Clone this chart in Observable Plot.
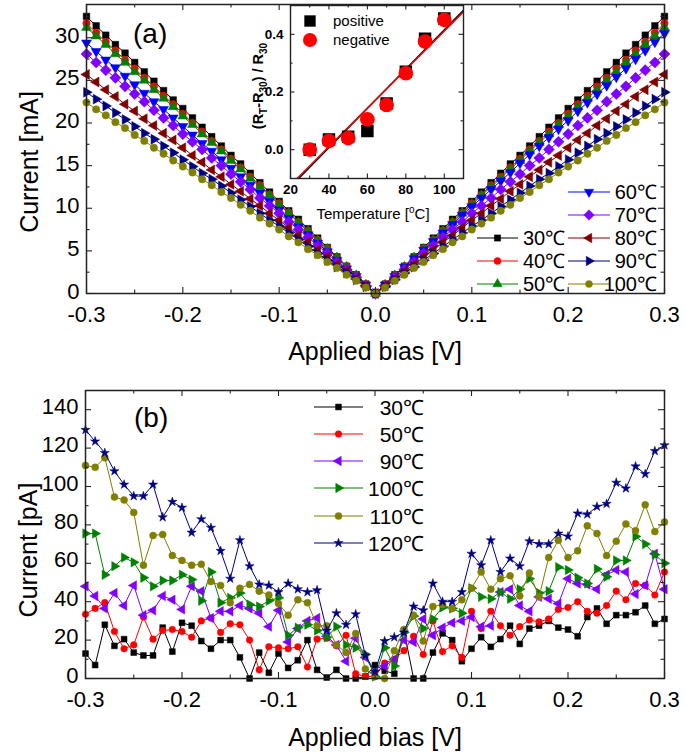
<!DOCTYPE html>
<html><head><meta charset="utf-8">
<script src="https://cdn.jsdelivr.net/npm/d3@7"></script>
<script src="https://cdn.jsdelivr.net/npm/@observablehq/plot@0.6"></script>
<style>
body{margin:0;background:#fff;}
#wrap{position:relative;width:685px;height:753px;overflow:hidden;background:#fff;}
#wrap svg{position:absolute;}
</style></head><body><div id="wrap"></div>
<script>
const FONT = "'Liberation Sans', Arial, Helvetica, sans-serif";

// ---------- shared x grid & ticks ----------
const bias = [-0.30,-0.29,-0.28,-0.27,-0.26,-0.25,-0.24,-0.23,-0.22,-0.21,-0.20,-0.19,-0.18,-0.17,-0.16,-0.15,-0.14,-0.13,-0.12,-0.11,-0.10,-0.09,-0.08,-0.07,-0.06,-0.05,-0.04,-0.03,-0.02,-0.01,0,0.01,0.02,0.03,0.04,0.05,0.06,0.07,0.08,0.09,0.10,0.11,0.12,0.13,0.14,0.15,0.16,0.17,0.18,0.19,0.20,0.21,0.22,0.23,0.24,0.25,0.26,0.27,0.28,0.29,0.30];
const xTicks = [-0.3,-0.2,-0.1,0,0.1,0.2,0.3];
const xMinor = [-0.25,-0.15,-0.05,0.05,0.15,0.25];
const yTicksA = [0,5,10,15,20,25,30];
const yMinorA = [2.5,7.5,12.5,17.5,22.5,27.5,32.5];
const yTicksB = [0,20,40,60,80,100,120,140];
const yMinorB = [10,30,50,70,90,110,130];

// ---------- panel (a): |current| in mA vs |bias| index 0..30 (0 to 0.30 V) ----------
const a30 = [0,1.1,2.2,3.2,4.3,5.4,6.5,7.6,8.7,9.7,10.8,11.9,13.0,14.1,15.2,16.2,17.3,18.4,19.5,20.6,21.7,22.7,23.8,24.9,26.0,27.1,28.2,29.2,30.3,31.4,32.5];
const a40 = [0,1.1,2.1,3.2,4.2,5.3,6.3,7.4,8.4,9.5,10.6,11.6,12.7,13.7,14.8,15.8,16.9,17.9,19.0,20.0,21.1,22.2,23.2,24.3,25.3,26.4,27.4,28.5,29.5,30.6,31.7];
const a50 = [0,1.0,2.1,3.1,4.2,5.2,6.2,7.3,8.3,9.4,10.4,11.5,12.5,13.5,14.6,15.6,16.7,17.7,18.7,19.8,20.8,21.9,22.9,23.9,25.0,26.0,27.1,28.1,29.2,30.2,31.2];
const a60pos = [0,1.0,2.0,3.1,4.1,5.1,6.1,7.1,8.1,9.2,10.2,11.2,12.2,13.2,14.2,15.3,16.3,17.3,18.3,19.3,20.3,21.4,22.4,23.4,24.4,25.4,26.4,27.5,28.5,29.5,30.5];
const a60neg = [0,1.0,2.0,2.9,3.9,4.9,5.9,6.9,7.8,8.8,9.8,10.8,11.8,12.7,13.7,14.7,15.7,16.7,17.6,18.6,19.6,20.6,21.6,22.5,23.5,24.5,25.5,26.5,27.4,28.4,29.4];
const a70 = [0,0.9,1.9,2.8,3.7,4.7,5.6,6.6,7.5,8.4,9.4,10.3,11.2,12.2,13.1,14.0,15.0,15.9,16.9,17.8,18.7,19.7,20.6,21.5,22.5,23.4,24.3,25.3,26.2,27.1,28.1];
const a80 = [0,0.9,1.7,2.6,3.4,4.3,5.1,6.0,6.8,7.7,8.6,9.4,10.3,11.1,12.0,12.8,13.7,14.5,15.4,16.2,17.1,18.0,18.8,19.7,20.5,21.4,22.2,23.1,23.9,24.8,25.7];
const a90 = [0,0.8,1.6,2.4,3.1,3.9,4.7,5.5,6.3,7.1,7.9,8.6,9.4,10.2,11.0,11.8,12.6,13.4,14.1,14.9,15.7,16.5,17.3,18.1,18.8,19.6,20.4,21.2,22.0,22.8,23.6];
const a100 = [0,0.7,1.5,2.2,3.0,3.7,4.5,5.2,6.0,6.7,7.5,8.2,8.9,9.7,10.4,11.2,11.9,12.7,13.4,14.2,14.9,15.6,16.4,17.1,17.9,18.6,19.4,20.1,20.9,21.6,22.4];

// ---------- inset ----------
const insetTemps = [30,40,50,60,70,80,90,100];
const insetPos = [0,0.035,0.045,0.065,0.16,0.27,0.385,0.455];
const insetNeg = [0,0.03,0.04,0.105,0.155,0.265,0.375,0.45];
const fitPosT = [24.2,110], fitPosY = [-0.1,0.483];
const fitNegT = [23.4,110], fitNegY = [-0.1,0.478];
const insetXTicks = [20,40,60,80,100];
const insetXMinor = [30,50,70,90];
const insetYTicks = [0,0.2,0.4];
const insetYMinor = [-0.1,0.1,0.3,0.5];

// ---------- panel (b): current in pA, 61 points from -0.30 to 0.30 V ----------
const b30 = [13,7,28,17,20.5,13.5,12,12,26.5,14,29,27.5,19.5,15.5,20,20,11,0,13.5,3,13,5.5,9.5,20,4.5,0.5,4.5,0,0,1, 7, 4,2.5,25,0,0,13.5,23.5,20,9,15.5,21.5,16.5,20.5,27.5,18,26,27.5,30,26.5,25.5,22,32,36.5,28.5,33,33,34.5,38,28.5,31];
const b50 = [33.5,36.5,39.5,24.5,15.5,17.5,32,20.5,25,25.5,24.5,21.5,30,31.5,24,28.5,28,20,4.5,16.5,16,15.5,16.5,6,20.5,21,17,22.5,2.5,1, 1, 8,10,14.5,22,12.5,30,14,17,11,35,26,35,27.5,22.5,27,30.5,29.5,31,36,37,40,35,34,38,45.5,41,49.5,48.5,43.5,55.5];
const b90 = [48,43,36.5,44.5,38,48.5,33,35.5,43,41,36,48,45.5,31.5,35,35,38,36.5,34,27,35.5,19,26,30,31.5,22,17.5,9,21,11, 3, 6.5,10,20,19,31,22.5,26.5,29,30,32,27,27.5,45,46.5,38,35,42.5,41.5,39,52,49.5,49,46.5,54,56.5,55.5,44,48.5,65,46.5];
const b100 = [75.5,75.5,54,58.5,63,60.5,52.5,48,51,51,54,51.5,40.5,55.5,39.5,42,44.5,38.5,37.5,40.5,42,22.5,26.5,28,25,21.5,27,17.5,16,12.5, 1, 16,6.5,24,32.5,26,31,37,36.5,34,47,42.5,41.5,45,41.5,46.5,52,44.5,45.5,58,56.5,52.5,49.5,57,53,61.5,61.5,74,70,64.5,60];
const b110 = [111,110,115,94.5,93,86.5,59,74.5,75,64,61.5,59,59.5,50.5,48.5,39.5,47,49,45.5,43.5,39,33,41,39.5,27.5,27.5,17.5,13.5,23.5,5, 1, 0,14.5,25.5,33,19.5,37.5,38.5,36.5,41,47,55.5,46.5,52,53.5,43,55,42.5,63,72,63,66.5,79.5,75.5,64,71.5,80.5,77,90.5,76.5,81.5];
const b120 = [129.5,123.5,117.5,108,101,95,95,101,84,92,89,76,83,78.5,66.5,52,72,58.5,49,48.5,45,49.5,46.5,45,46,25,34,28,33.5,12, 3.5, 19.5,21.5,24,37.5,35.5,49.5,40,40,45,65,59,72,55.5,62.5,58.5,71.5,70,70,75.5,74,86,85.5,89.5,91,102,99,110.5,106.5,118.5,121.5];

// ---------- symbols ----------
function triSym(angle){
  return {draw(ctx, size){
    const y = -Math.sqrt(size/(3*Math.sqrt(3)));
    const pts = [[0,2*y],[-Math.sqrt(3)*y,-y],[Math.sqrt(3)*y,-y]];
    const a = angle*Math.PI/180, c = Math.cos(a), s = Math.sin(a);
    pts.forEach(([px,py],i)=>{const X=px*c-py*s, Y=px*s+py*c; if(i===0) ctx.moveTo(X,Y); else ctx.lineTo(X,Y);});
    ctx.closePath();
  }};
}
const symDiamond = {draw(ctx,size){const r=Math.sqrt(size/2)*1.2; ctx.moveTo(0,-r);ctx.lineTo(r,0);ctx.lineTo(0,r);ctx.lineTo(-r,0);ctx.closePath();}};
const symUp = triSym(0), symDown = triSym(180), symLeft = triSym(-90), symRight = triSym(90);

const seriesA = [
  {T:30, color:"#000000", sym:d3.symbolSquare, neg:a30, pos:a30},
  {T:40, color:"#ff0000", sym:d3.symbolCircle, neg:a40, pos:a40},
  {T:50, color:"#008000", sym:symUp, neg:a50, pos:a50},
  {T:60, color:"#0000ff", sym:symDown, neg:a60neg, pos:a60pos},
  {T:70, color:"#8000ff", sym:symDiamond, neg:a70, pos:a70},
  {T:80, color:"#800000", sym:symLeft, neg:a80, pos:a80},
  {T:90, color:"#000080", sym:symRight, neg:a90, pos:a90},
  {T:100, color:"#808000", sym:d3.symbolCircle, neg:a100, pos:a100}
];
const rowsA = seriesA.flatMap(s => bias.map((v,i)=>({T:s.T, V:v, I: i<30 ? s.neg[30-i] : s.pos[i-30]})));

const seriesB = [
  {T:30, color:"#000000", sym:d3.symbolSquare, vals:b30, r:3.3},
  {T:50, color:"#ff0000", sym:d3.symbolCircle, vals:b50, r:3.3},
  {T:90, color:"#8000ff", sym:symLeft, vals:b90, r:3.5},
  {T:100, color:"#008000", sym:symRight, vals:b100, r:3.5},
  {T:110, color:"#808000", sym:d3.symbolCircle, vals:b110, r:3.5},
  {T:120, color:"#000080", sym:d3.symbolStar, vals:b120, r:2.9}
];
const rowsB = seriesB.flatMap(s => bias.map((v,i)=>({T:s.T, V:v, I:s.vals[i]})));

const insetRows = insetTemps.map((t,i)=>({T:t, pos:insetPos[i], neg:insetNeg[i]}));

function frameTicks(xT, xM, yT, yM, fw, fh, maj, min){
  const st = {stroke:"#222", strokeWidth:1.1};
  return [
    Plot.tickX(xT, {x:d=>d, insetTop:fh-maj, ...st}),
    Plot.tickX(xT, {x:d=>d, insetBottom:fh-maj, ...st}),
    Plot.tickX(xM, {x:d=>d, insetTop:fh-min, ...st}),
    Plot.tickX(xM, {x:d=>d, insetBottom:fh-min, ...st}),
    Plot.tickY(yT, {y:d=>d, insetRight:fw-maj, ...st}),
    Plot.tickY(yT, {y:d=>d, insetLeft:fw-maj, ...st}),
    Plot.tickY(yM, {y:d=>d, insetRight:fw-min, ...st}),
    Plot.tickY(yM, {y:d=>d, insetLeft:fw-min, ...st})
  ];
}
const fmt1 = d => (Math.abs(d) < 1e-9 ? 0 : d).toFixed(1);
const wrap = document.getElementById("wrap");

// ================= PANEL (a) =================
const A = {W:685, H:375, ml:86, mr:21, mt:4, mb:82};
const fwA = A.W-A.ml-A.mr, fhA = A.H-A.mt-A.mb;
const plotA = Plot.plot({
  width:A.W, height:A.H, marginLeft:A.ml, marginRight:A.mr, marginTop:A.mt, marginBottom:A.mb,
  style:{fontFamily:FONT, fontSize:"22px", background:"transparent", overflow:"visible", color:"#000"},
  x:{domain:[-0.3,0.3]},
  y:{domain:[0,33.9]},
  marks:[
    ...seriesA.flatMap(s=>{
      const d = rowsA.filter(r=>r.T===s.T);
      return [
        Plot.line(d, {x:"V", y:"I", stroke:s.color, strokeWidth:1}),
        Plot.dot(d, {x:"V", y:"I", symbol:s.sym, r:3.7, fill:s.color, stroke:s.color, strokeWidth:0.5})
      ];
    }),
    ...frameTicks(xTicks, xMinor, yTicksA, yMinorA, fwA, fhA, 6, 3.5),
    Plot.frame({stroke:"#222", strokeWidth:1.5}),
    Plot.axisX(xTicks, {anchor:"bottom", tickSize:0, tickPadding:13, fontSize:22, tickFormat:fmt1, label:null}),
    Plot.axisY(yTicksA, {anchor:"left", tickSize:0, tickPadding:7, fontSize:22, tickFormat:d=>String(d), label:null, dy:-2})
  ]
});
plotA.style.left = "0px"; plotA.style.top = "0px";
wrap.appendChild(plotA);

function legendEntry(svg, e){
  const g = d3.select(svg).append("g");
  g.append("line").attr("x1",e.x1).attr("x2",e.x2).attr("y1",e.y).attr("y2",e.y).attr("stroke",e.color).attr("stroke-width",1.2);
  g.append("path").attr("d", d3.symbol(e.sym, Math.PI*e.r*e.r)()).attr("transform",`translate(${(e.x1+e.x2)/2},${e.y})`).attr("fill",e.color).attr("stroke",e.color).attr("stroke-width",0.5);
  g.append("text").attr("x",e.lx).attr("y",e.y).attr("dy","0.36em").attr("text-anchor",e.anchor)
    .attr("font-family",FONT).attr("font-size",e.fs).attr("fill","#000").text(e.label);
}
function addText(svg, o){
  const t = d3.select(svg).append("text").attr("font-family",FONT).attr("font-size",o.fs).attr("fill","#000")
    .attr("text-anchor",o.anchor||"middle");
  if (o.rotate) t.attr("transform",`translate(${o.x},${o.y}) rotate(${o.rotate})`).attr("dy","0.35em");
  else t.attr("x",o.x).attr("y",o.y);
  if (o.weight) t.attr("font-weight",o.weight);
  t.text(o.text);
  return t;
}

// legend (a)
const legA = [
  {T:30, x1:477, x2:518, y:238, lx:523, anchor:"start"},
  {T:40, x1:477, x2:518, y:261, lx:523, anchor:"start"},
  {T:50, x1:477, x2:518, y:284, lx:523, anchor:"start"},
  {T:60, x1:568, x2:610, y:192, lx:657, anchor:"end"},
  {T:70, x1:568, x2:610, y:215, lx:657, anchor:"end"},
  {T:80, x1:568, x2:610, y:238, lx:657, anchor:"end"},
  {T:90, x1:568, x2:610, y:261, lx:657, anchor:"end"},
  {T:100, x1:568, x2:610, y:284, lx:657, anchor:"end"}
];
legA.forEach(l=>{
  const s = seriesA.find(q=>q.T===l.T);
  legendEntry(plotA, {...l, color:s.color, sym:s.sym, r:3.5, fs:20, label:`${l.T}℃`});
});
addText(plotA, {x:29, y:162, rotate:-90, fs:25, text:"Current [mA]"});
addText(plotA, {x:375, y:360, fs:25, text:"Applied bias [V]"});
addText(plotA, {x:133, y:43, fs:28, anchor:"start", text:"(a)"});

// ================= INSET =================
const I = {left:230, W:240, H:228, ml:60, mr:7, mt:5, mb:50};
const fwI = I.W-I.ml-I.mr, fhI = I.H-I.mt-I.mb;
const plotI = Plot.plot({
  width:I.W, height:I.H, marginLeft:I.ml, marginRight:I.mr, marginTop:I.mt, marginBottom:I.mb,
  style:{fontFamily:FONT, fontSize:"13px", background:"transparent", overflow:"visible", color:"#000"},
  x:{domain:[20,110]},
  y:{domain:[-0.1,0.5]},
  marks:[
    Plot.frame({fill:"white", stroke:null}),
    Plot.line(fitPosT.map((t,i)=>({T:t, Y:fitPosY[i]})), {x:"T", y:"Y", stroke:"#000", strokeWidth:1.6, clip:true}),
    Plot.line(fitNegT.map((t,i)=>({T:t, Y:fitNegY[i]})), {x:"T", y:"Y", stroke:"#dd1111", strokeWidth:1.6, clip:true}),
    Plot.dot(insetRows, {x:"T", y:"pos", symbol:"square", r:6.2, fill:"#000", stroke:"#000"}),
    Plot.dot(insetRows, {x:"T", y:"neg", symbol:"circle", r:6.6, fill:"#ff0000", stroke:"#ff0000"}),
    ...frameTicks(insetXTicks, insetXMinor, insetYTicks, insetYMinor, fwI, fhI, 4.5, 2.5),
    Plot.frame({stroke:"#222", strokeWidth:1.4}),
    Plot.axisX(insetXTicks, {anchor:"bottom", tickSize:0, tickPadding:6, fontSize:13.5, fontWeight:"bold", tickFormat:d=>String(d), label:null}),
    Plot.axisY(insetYTicks, {anchor:"left", tickSize:0, tickPadding:7, fontSize:13.5, fontWeight:"bold", tickFormat:fmt1, label:null})
  ]
});
plotI.style.left = I.left+"px"; plotI.style.top = "0px";
wrap.appendChild(plotI);
{
  const s = d3.select(plotI);
  s.append("path").attr("d", d3.symbol(d3.symbolSquare, Math.PI*6.4*6.4)()).attr("transform","translate(80,21)").attr("fill","#000");
  s.append("path").attr("d", d3.symbol(d3.symbolCircle, Math.PI*7*7)()).attr("transform","translate(80,40)").attr("fill","#ff0000");
  addText(plotI, {x:103, y:26, fs:15, anchor:"start", text:"positive"});
  addText(plotI, {x:103, y:45, fs:15, anchor:"start", text:"negative"});
  const tx = s.append("text").attr("x",143).attr("y",219).attr("text-anchor","middle").attr("font-family",FONT).attr("font-size",15).attr("fill","#000");
  tx.append("tspan").text("Temperature [");
  tx.append("tspan").attr("dy",-6).attr("font-size",10).text("o");
  tx.append("tspan").attr("dy",6).text("C]");
  const ty = s.append("text").attr("transform","translate(33,86) rotate(-90)").attr("text-anchor","middle")
    .attr("font-family",FONT).attr("font-size",14.5).attr("font-weight","bold").attr("fill","#000");
  ty.append("tspan").text("(R");
  ty.append("tspan").attr("dy",4).attr("font-size",10).text("T");
  ty.append("tspan").attr("dy",-4).text("-R");
  ty.append("tspan").attr("dy",4).attr("font-size",10).text("30");
  ty.append("tspan").attr("dy",-4).text(") / R");
  ty.append("tspan").attr("dy",4).attr("font-size",10).text("30");
}

// ================= PANEL (b) =================
const B = {top:380, W:685, H:373, ml:85, mr:21, mt:10, mb:75};
const fwB = B.W-B.ml-B.mr, fhB = B.H-B.mt-B.mb;
const plotB = Plot.plot({
  width:B.W, height:B.H, marginLeft:B.ml, marginRight:B.mr, marginTop:B.mt, marginBottom:B.mb,
  style:{fontFamily:FONT, fontSize:"22px", background:"transparent", overflow:"visible", color:"#000"},
  x:{domain:[-0.3,0.3]},
  y:{domain:[0,150]},
  marks:[
    ...seriesB.flatMap(s=>{
      const d = rowsB.filter(r=>r.T===s.T);
      return [
        Plot.line(d, {x:"V", y:"I", stroke:s.color, strokeWidth:1, clip:true}),
        Plot.dot(d, {x:"V", y:"I", symbol:s.sym, r:s.r, fill:s.color, stroke:s.color, strokeWidth:0.5})
      ];
    }),
    ...frameTicks(xTicks, xMinor, yTicksB, yMinorB, fwB, fhB, 6, 3.5),
    Plot.frame({stroke:"#222", strokeWidth:1.5}),
    Plot.axisX(xTicks, {anchor:"bottom", tickSize:0, tickPadding:13, fontSize:22, tickFormat:fmt1, label:null}),
    Plot.axisY(yTicksB, {anchor:"left", tickSize:0, tickPadding:7, fontSize:22, tickFormat:d=>String(d), label:null, dy:-3})
  ]
});
plotB.style.left = "0px"; plotB.style.top = B.top+"px";
wrap.appendChild(plotB);

const legB = [
  {T:30, y:27}, {T:50, y:54}, {T:90, y:81}, {T:100, y:108}, {T:110, y:136}, {T:120, y:163}
];
legB.forEach(l=>{
  const s = seriesB.find(q=>q.T===l.T);
  legendEntry(plotB, {x1:314, x2:363, y:l.y, lx:424, anchor:"end", color:s.color, sym:s.sym, r:s.r, fs:21, label:`${l.T}℃`});
});
addText(plotB, {x:28, y:170, rotate:-90, fs:25, text:"Current [pA]"});
addText(plotB, {x:375, y:366, fs:25, text:"Applied bias [V]"});
addText(plotB, {x:134, y:47, fs:28, anchor:"start", text:"(b)"});
</script></body></html>
